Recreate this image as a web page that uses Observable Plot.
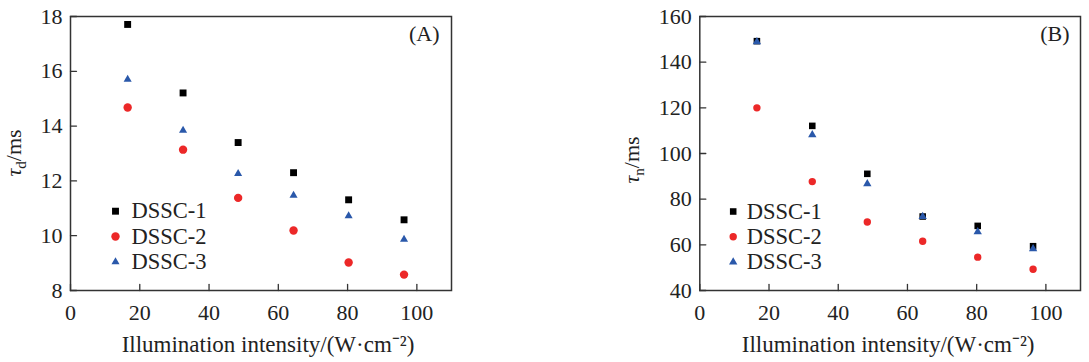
<!DOCTYPE html>
<html><head><meta charset="utf-8">
<script src="https://cdn.jsdelivr.net/npm/d3@7"></script>
<script src="https://cdn.jsdelivr.net/npm/@observablehq/plot@0.6"></script>
<style>
body{margin:0;background:#fff}
#wrap{display:flex;width:1089px;height:362px;overflow:hidden}
</style>
</head><body><div id="wrap"></div>
<script>
// ---- data ----
const intensity = [16.5, 32.5, 48.4, 64.4, 80.3, 96.3];
const seriesNames = ["DSSC-1", "DSSC-2", "DSSC-3"];
const tauD1 = [17.71, 15.21, 13.40, 12.30, 11.31, 10.58];
const tauD2 = [14.68, 13.14, 11.38, 10.19, 9.02, 8.58];
const tauD3 = [15.70, 13.84, 12.26, 11.47, 10.72, 9.86];
const tauN1 = [149.2, 112.1, 91.1, 72.4, 68.3, 59.4];
const tauN2 = [120.0, 87.7, 70.0, 61.6, 54.6, 49.3];
const tauN3 = [148.9, 108.2, 86.7, 72.4, 65.7, 58.3];
const xTicks = [0, 20, 40, 60, 80, 100];
const yTicksA = [8, 10, 12, 14, 16, 18];
const yTicksB = [40, 60, 80, 100, 120, 140, 160];
const xTitle = "Illumination intensity/(W\u00b7cm\u207b\u00b2)";

// ---- styles ----
const FONT = "'Liberation Serif','Times New Roman',serif";
const FS = 22;
const colors = ["#000000", "#ec2828", "#2a58aa"];
const symbols = ["square", "circle", "triangle"];
const tickShape = {draw(ctx, l) { ctx.moveTo(0, 0); ctx.lineTo(0, -l); }};

function panel(o) {
  const rows = o.series.flatMap((ys, i) => ys.map((y, j) => ({x: intensity[j], y, s: i})));
  const marks = [
    Plot.frame({stroke: "#333", strokeWidth: 1.5}),
    Plot.vector(xTicks, {x: d => d, frameAnchor: "bottom", length: 6, rotate: 0, anchor: "start", shape: tickShape, stroke: "#333", strokeWidth: 1.3}),
    Plot.vector(o.yTicks, {y: d => d, frameAnchor: "left", length: 6, rotate: 90, anchor: "start", shape: tickShape, stroke: "#333", strokeWidth: 1.3}),
    Plot.axisX({ticks: xTicks, tickSize: 0, tickPadding: 14, fontSize: FS, fontFamily: FONT, fill: "#222", label: null, tickFormat: d => String(d)}),
    Plot.axisY({ticks: o.yTicks, tickSize: 0, tickPadding: 8, fontSize: FS, fontFamily: FONT, fill: "#222", label: null, tickFormat: d => String(d)}),
  ];
  for (let i = 0; i < 3; i++) {
    marks.push(Plot.dot(rows.filter(r => r.s === i), {x: "x", y: "y", symbol: () => symbols[i], r: o.radii[i], fill: colors[i], stroke: "none"}));
  }
  seriesNames.forEach((name, i) => {
    const dy = o.legendDy + i * 25.3;
    marks.push(Plot.dot([name], {frameAnchor: "top-left", dx: o.legendDx, dy, symbol: () => symbols[i], r: o.radii[i], fill: colors[i]}));
    marks.push(Plot.text([name], {frameAnchor: "top-left", dx: o.textDx, dy, text: d => d, textAnchor: "start", lineAnchor: "middle", fontSize: FS + 0.5, fontFamily: FONT, fill: "#222"}));
  });
  marks.push(Plot.text([o.tag], {frameAnchor: "top-right", dx: o.tagDx, dy: 17, text: d => d, textAnchor: "end", lineAnchor: "middle", fontSize: FS, fontFamily: FONT, fill: "#222"}));
  marks.push(Plot.text([xTitle], {frameAnchor: "bottom", dx: o.titleDx, dy: 54.5, text: d => d, textAnchor: "middle", lineAnchor: "middle", fontSize: 23, fontFamily: FONT, fill: "#222"}));
  const svg = Plot.plot({
    width: o.width, height: 362,
    marginLeft: o.marginLeft, marginRight: o.marginRight, marginTop: 16, marginBottom: 72,
    style: {fontFamily: FONT, fontSize: FS + "px", background: "#fff", color: "#222"},
    x: {domain: [0, 110]},
    y: {domain: o.yDomain},
    marks
  });
  // y axis title with subscript
  const t = d3.select(svg).append("text")
    .attr("transform", `translate(${o.ylabelX},${o.ylabelY}) rotate(-90)`)
    .attr("text-anchor", "middle")
    .attr("font-family", FONT).attr("font-size", FS).attr("fill", "#222");
  t.append("tspan").attr("font-style", "italic").text("\u03c4");
  t.append("tspan").attr("font-size", 15).attr("dy", 5).text(o.sub);
  t.append("tspan").attr("dy", -5).text("/ms");
  return svg;
}

const wrap = document.getElementById("wrap");
wrap.appendChild(panel({
  width: 545, marginLeft: 70, marginRight: 94,
  yDomain: [8, 18], yTicks: yTicksA, series: [tauD1, tauD2, tauD3], radii: [3.9, 4.2, 3.0],
  legendDx: 45, textDx: 61, legendDy: 194.7, tag: "(A)", tagDx: -12, titleDx: 7,
  sub: "d", ylabelX: 21, ylabelY: 153
}));
wrap.appendChild(panel({
  width: 544, marginLeft: 154.3, marginRight: 9,
  yDomain: [40, 160], yTicks: yTicksB, series: [tauN1, tauN2, tauN3], radii: [3.7, 3.7, 3.1],
  legendDx: 33.4, textDx: 47, legendDy: 195, tag: "(B)", tagDx: -11, titleDx: -2,
  sub: "n", ylabelX: 94, ylabelY: 160
}));
</script>
</body></html>
